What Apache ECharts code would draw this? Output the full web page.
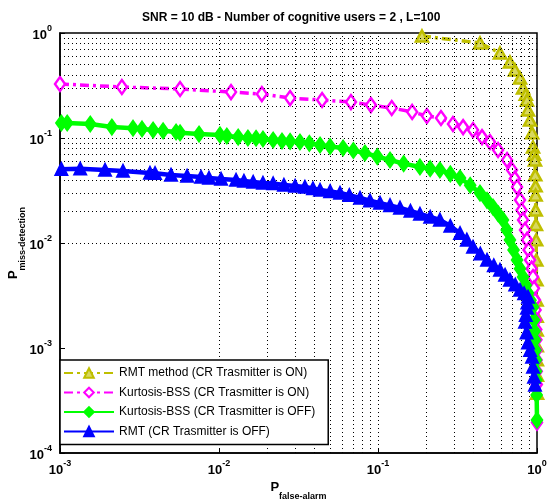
<!DOCTYPE html>
<html>
<head>
<meta charset="utf-8">
<script src="https://cdn.jsdelivr.net/npm/echarts@6/dist/echarts.min.js"></script>
<style>
html,body{margin:0;padding:0;background:#fff;}
#chart{width:547px;height:501px;}
</style>
</head>
<body>
<div id="chart"></div>
<script>
// ---- data ----
const titleText = 'SNR = 10 dB - Number of cognitive users = 2 , L=100';
const seriesNames = [
  'RMT method (CR Trasmitter is ON)',
  'Kurtosis-BSS (CR Trasmitter is ON)',
  'Kurtosis-BSS (CR Trasmitter is OFF)',
  'RMT (CR Trasmitter is OFF)'
];
const xTickValues = [0.001, 0.01, 0.1, 1];
const yTickValues = [0.0001, 0.001, 0.01, 0.1, 1];

const rmtOn = [
  [0.189, 0.936], [0.438, 0.803], [0.585, 0.645], [0.676, 0.530], [0.727, 0.444],
  [0.782, 0.373], [0.817, 0.299], [0.850, 0.260], [0.865, 0.230], [0.878, 0.185],
  [0.904, 0.148], [0.931, 0.112], [0.944, 0.0820], [0.960, 0.070], [0.971, 0.0617],
  [0.975, 0.0445], [0.980, 0.0350], [0.980, 0.0286], [0.982, 0.0206], [0.985, 0.0150],
  [0.988, 0.0107], [0.990, 0.00689], [0.992, 0.00445], [0.994, 0.00286], [0.995, 0.00200],
  [0.996, 0.00148], [0.997, 0.00105], [0.998, 0.00077], [0.999, 0.00055], [1.0, 0.00037]
];
const kurtOn = [
  [0.001, 0.327], [0.00245, 0.306], [0.00569, 0.293], [0.0119, 0.274], [0.0186, 0.262],
  [0.0280, 0.240], [0.0445, 0.230], [0.0676, 0.220], [0.0903, 0.206], [0.122, 0.193],
  [0.164, 0.177], [0.203, 0.162], [0.249, 0.155], [0.296, 0.136], [0.343, 0.127],
  [0.396, 0.119], [0.451, 0.102], [0.506, 0.0916], [0.569, 0.0769], [0.648, 0.0617],
  [0.696, 0.0496], [0.725, 0.0410], [0.749, 0.0341], [0.782, 0.0257], [0.800, 0.0205],
  [0.817, 0.0166], [0.840, 0.0133], [0.865, 0.0107], [0.885, 0.0086], [0.904, 0.00689],
  [0.925, 0.00570], [0.944, 0.00474], [0.958, 0.00370], [0.971, 0.00286], [0.980, 0.00230],
  [0.986, 0.00185], [0.990, 0.00150], [0.992, 0.00120], [0.994, 0.00095], [0.995, 0.00077],
  [0.997, 0.00060], [0.998, 0.00045], [1.0, 0.000195]
];
const kurtOff = [
  [0.00102, 0.139], [0.00111, 0.139], [0.00155, 0.136], [0.00212, 0.127], [0.00288, 0.124],
  [0.00328, 0.122], [0.00385, 0.119], [0.00445, 0.117], [0.00537, 0.114], [0.00569, 0.112],
  [0.00749, 0.109], [0.01014, 0.107], [0.0112, 0.1045], [0.0132, 0.102], [0.0152, 0.100],
  [0.0171, 0.0995], [0.0189, 0.0978], [0.0219, 0.0957], [0.0249, 0.0936], [0.0280, 0.0930],
  [0.0323, 0.0916], [0.0370, 0.0890], [0.0432, 0.0858], [0.0500, 0.0830], [0.0603, 0.0803],
  [0.0700, 0.0760], [0.0828, 0.0720], [0.0990, 0.0665], [0.119, 0.0617], [0.145, 0.0570],
  [0.1836, 0.0530], [0.213, 0.0510], [0.245, 0.0496], [0.285, 0.0455], [0.328, 0.0416],
  [0.380, 0.0355], [0.438, 0.0299], [0.485, 0.0255], [0.529, 0.0220], [0.570, 0.0190],
  [0.611, 0.0166], [0.645, 0.0133], [0.676, 0.0107], [0.712, 0.0086], [0.749, 0.00689],
  [0.782, 0.00570], [0.817, 0.00474], [0.850, 0.00395], [0.878, 0.00334], [0.910, 0.00285],
  [0.944, 0.00246], [0.957, 0.00185], [0.965, 0.00145], [0.971, 0.00119], [0.978, 0.00095],
  [0.986, 0.00077], [0.986, 0.00060], [0.990, 0.000496], [0.995, 0.000357], [1.0, 0.000206]
];
const rmtOff = [
  [0.00102, 0.0505], [0.00134, 0.0510], [0.00192, 0.0496], [0.00249, 0.0485], [0.00368, 0.0464],
  [0.00396, 0.0462], [0.00499, 0.0445], [0.00630, 0.0435], [0.00771, 0.0425], [0.00865, 0.0416],
  [0.0103, 0.0407], [0.0128, 0.0398], [0.01435, 0.0390], [0.0164, 0.0381], [0.0189, 0.0373],
  [0.0219, 0.0368], [0.0256, 0.0357], [0.0301, 0.0349], [0.0347, 0.0341], [0.0390, 0.0330],
  [0.0432, 0.0320], [0.0500, 0.0310], [0.0577, 0.0299], [0.0660, 0.0285], [0.0771, 0.0268],
  [0.0890, 0.0253], [0.103, 0.0240], [0.119, 0.0228], [0.1375, 0.0216], [0.160, 0.0202],
  [0.1836, 0.0189], [0.213, 0.0177], [0.245, 0.0166], [0.285, 0.0145], [0.328, 0.0124],
  [0.362, 0.0107], [0.396, 0.00916], [0.440, 0.00790], [0.485, 0.00689], [0.535, 0.00610],
  [0.585, 0.00553], [0.630, 0.00495], [0.676, 0.00445], [0.730, 0.00400], [0.782, 0.00357],
  [0.830, 0.00330], [0.878, 0.00306], [0.870, 0.00270], [0.865, 0.00240], [0.850, 0.00205],
  [0.841, 0.00177], [0.860, 0.00140], [0.878, 0.00112], [0.905, 0.00095], [0.931, 0.00082],
  [0.944, 0.00066], [0.958, 0.00053], [0.971, 0.000445]
];

// ---- chart ----
const FONT = 'Liberation Sans';
const chart = echarts.init(document.getElementById('chart'), null, {renderer: 'canvas'});

function logGridValues(lo, hi) {
  const vals = [];
  for (let e = Math.round(Math.log10(lo)); e < Math.round(Math.log10(hi)); e++) {
    for (let m = 1; m <= 9; m++) {
      const v = m * Math.pow(10, e);
      if (v > lo * 1.0001 && v < hi * 0.9999) vals.push(v);
    }
  }
  return vals;
}
const gridStyle = {color: '#000', width: 1, type: [1, 3]};
const xGrid = logGridValues(xTickValues[0], xTickValues[xTickValues.length - 1]).map(v => ({xAxis: v}));
const yGrid = logGridValues(yTickValues[0], yTickValues[yTickValues.length - 1]).map(v => ({yAxis: v}));

function powLabel(v) {
  const e = Math.round(Math.log10(v));
  return '{b|10}{s|' + e + '}';
}
const labelRich = {
  b: {fontFamily: FONT, fontSize: 13, fontWeight: 'bold', color: '#000', lineHeight: 18, verticalAlign: 'bottom'},
  s: {fontFamily: FONT, fontSize: 9, fontWeight: 'bold', color: '#000', lineHeight: 18, verticalAlign: 'top', padding: [0, 0, 6, 0]}
};

const colors = ['#bfbf00', '#ff00ff', '#00ff00', '#0000ff'];
const lineTypes = [[9, 4, 3, 4], [9, 4, 3, 4], 'solid', 'solid'];
const lineWidths = [3.5, 3.5, 4.5, 4.5];
const symbols = ['triangle', 'diamond', 'diamond', 'triangle'];
const symbolSizes = [[12, 11], [10, 14], [10, 14], [11, 11]];
const fills = ['#d8d860', '#ffffff', '#00ff00', '#0000ff'];
const datas = [rmtOn, kurtOn, kurtOff, rmtOff];

const series = [{
  name: 'grid', type: 'line', data: [], z: 1, silent: true,
  markLine: {
    silent: true, symbol: ['none', 'none'], label: {show: false}, animation: false,
    lineStyle: gridStyle, emphasis: {disabled: true},
    data: xGrid.concat(yGrid)
  }
}];
datas.forEach((d, i) => {
  series.push({
    name: seriesNames[i], type: 'line', data: d, z: 3 + i,
    symbol: symbols[i], symbolSize: symbolSizes[i], showAllSymbol: true,
    lineStyle: {color: colors[i], width: lineWidths[i], type: lineTypes[i]},
    itemStyle: {color: fills[i], borderColor: colors[i], borderWidth: 2.5},
    emphasis: {disabled: true}
  });
});

chart.setOption({
  animation: false,
  backgroundColor: '#fff',
  title: {
    text: titleText, left: 137, top: 7,
    textStyle: {fontFamily: FONT, fontSize: 12, fontWeight: 'bold', color: '#000'}
  },
  legend: {
    data: seriesNames, orient: 'vertical', left: 60, top: 360,
    itemWidth: 50, itemHeight: 12, itemGap: 7.5,
    padding: [7, 13, 7, 3],
    backgroundColor: '#fff', borderColor: '#000', borderWidth: 1.5,
    textStyle: {fontFamily: FONT, fontSize: 12, color: '#000'},
    selectedMode: false, z: 20
  },
  grid: {left: 60, right: 10, top: 33, bottom: 48, show: true, borderColor: '#000', borderWidth: 1.5,
         backgroundColor: '#fff', containLabel: false, outerBoundsMode: 'none'},
  xAxis: {
    type: 'log', logBase: 10, min: xTickValues[0], max: xTickValues[xTickValues.length - 1],
    name: '{p|P}{s|false-alarm}', nameLocation: 'middle', nameGap: 28, nameMoveOverlap: false,
    nameTextStyle: {rich: {
      p: {fontFamily: FONT, fontSize: 13, fontWeight: 'bold', color: '#000', verticalAlign: 'top', lineHeight: 20},
      s: {fontFamily: FONT, fontSize: 9, fontWeight: 'bold', color: '#000', verticalAlign: 'bottom', lineHeight: 20}
    }},
    axisLine: {lineStyle: {color: '#000', width: 1.5}},
    axisTick: {inside: true, length: 5, lineStyle: {color: '#000'}},
    splitLine: {show: false},
    axisLabel: {formatter: powLabel, rich: labelRich, margin: 6, showMinLabel: true, showMaxLabel: true}
  },
  yAxis: {
    type: 'log', logBase: 10, min: yTickValues[0], max: yTickValues[yTickValues.length - 1],
    name: '{p|P}{s|miss-detection}', nameLocation: 'middle', nameGap: 33, nameRotate: 90, nameMoveOverlap: false,
    nameTextStyle: {rich: {
      p: {fontFamily: FONT, fontSize: 13, fontWeight: 'bold', color: '#000', verticalAlign: 'top', lineHeight: 20},
      s: {fontFamily: FONT, fontSize: 9, fontWeight: 'bold', color: '#000', verticalAlign: 'bottom', lineHeight: 20}
    }},
    axisLine: {lineStyle: {color: '#000', width: 1.5}},
    axisTick: {inside: true, length: 5, lineStyle: {color: '#000'}},
    splitLine: {show: false},
    axisLabel: {formatter: powLabel, rich: labelRich, margin: 8, showMinLabel: true, showMaxLabel: true}
  },
  series: series
});
</script>
</body>
</html>
